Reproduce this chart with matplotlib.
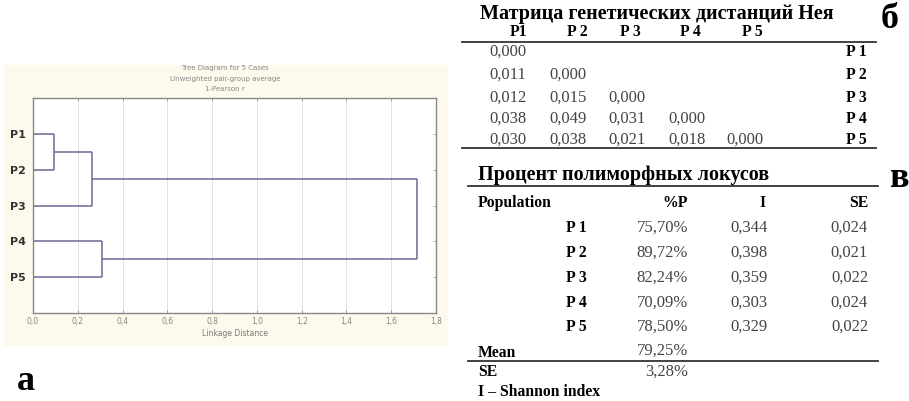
import matplotlib
matplotlib.use('Agg')
import matplotlib.pyplot as plt
from matplotlib.patches import Rectangle

# dendrogram (UPGMA, 1-Pearson r)
leaves = ['P1', 'P2', 'P3', 'P4', 'P5']
h_p1p2 = 0.094
h_p12p3 = 0.262
h_p4p5 = 0.31
h_root = 1.714

# Nei genetic distance matrix (lower triangle)
pops_b = ['P 1', 'P 2', 'P 3', 'P 4', 'P 5']
col_heads_b = ['P1', 'P 2', 'P 3', 'P 4', 'P 5']
nei = [['0,000'],
       ['0,011', '0,000'],
       ['0,012', '0,015', '0,000'],
       ['0,038', '0,049', '0,031', '0,000'],
       ['0,030', '0,038', '0,021', '0,018', '0,000']]

# polymorphic loci
pops_c = ['P 1', 'P 2', 'P 3', 'P 4', 'P 5']
perc_p = ['75,70%', '89,72%', '82,24%', '70,09%', '78,50%']
shannon = ['0,344', '0,398', '0,359', '0,303', '0,329']
se_vals = ['0,024', '0,021', '0,022', '0,024', '0,022']
mean_p = '79,25%'
se_p = '3,28%'

W, H = 909, 401
fig = plt.figure(figsize=(W / 100, H / 100), dpi=100)

def fx(x):
    return x / W

def fy(y):
    return 1 - y / H

serif = 'Liberation Serif'
vcol = '#444444'
fs_title = 14.5
fs_val = 12
fs_bold = 11.3
fs_letter = 26

# ---- panel a ----
bg = Rectangle((fx(4), fy(346)), fx(444), 281 / H, transform=fig.transFigure,
               facecolor='#fdf9ec', edgecolor='none', zorder=-5)
fig.patches.append(bg)
ax = fig.add_axes([fx(33), fy(313), fx(403), 215 / H], zorder=2)
ax.set_facecolor('white')
lc = '#6a6a96'
lw = 1.1
ypos = {name: i + 1 for i, name in enumerate(leaves)}
y12 = (ypos['P1'] + ypos['P2']) / 2
y123 = (y12 + ypos['P3']) / 2
y45 = (ypos['P4'] + ypos['P5']) / 2
segs = [
    ([0, h_p1p2], [ypos['P1']] * 2), ([0, h_p1p2], [ypos['P2']] * 2),
    ([h_p1p2] * 2, [ypos['P1'], ypos['P2']]),
    ([h_p1p2, h_p12p3], [y12] * 2), ([0, h_p12p3], [ypos['P3']] * 2),
    ([h_p12p3] * 2, [y12, ypos['P3']]),
    ([0, h_p4p5], [ypos['P4']] * 2), ([0, h_p4p5], [ypos['P5']] * 2),
    ([h_p4p5] * 2, [ypos['P4'], ypos['P5']]),
    ([h_p12p3, h_root], [y123] * 2), ([h_p4p5, h_root], [y45] * 2),
    ([h_root] * 2, [y123, y45]),
]
for xs, ys in segs:
    ax.plot(xs, ys, color=lc, lw=lw, solid_capstyle='butt')
ax.set_xlim(0, 1.8)
ax.set_ylim(6, 0)
xt = [i * 0.2 for i in range(10)]
ax.set_xticks(xt)
ax.set_xticklabels([('%.1f' % v).replace('.', ',') for v in xt], fontsize=5.5, color='#888888')
ax.set_yticks(range(1, 6))
ax.set_yticklabels(leaves, fontsize=8, fontweight='bold', color='#333333')
ax.tick_params(axis='both', direction='in', length=2, width=0.6, color='#999999',
               top=True, right=True, pad=3)
ax.tick_params(axis='y', pad=5)
ax.grid(axis='x', color='#dddddd', lw=0.6)
ax.set_axisbelow(True)
for s in ax.spines.values():
    s.set_color('#888888')
    s.set_linewidth(1.0)
ax.set_xlabel('Linkage Distance', fontsize=5.5, color='#777777', labelpad=2)
for txt, yy in [('Tree Diagram for 5 Cases', 68), ('Unweighted pair-group average', 79),
                ('1-Pearson r', 89)]:
    fig.text(fx(225), fy(yy), txt, fontsize=5, color='#888888', ha='center', va='center')
fig.text(fx(17), fy(390), 'а', fontsize=fs_letter, fontweight='bold', family=serif,
         ha='left', va='baseline')

# ---- panel б ----
fig.text(fx(480), fy(14), 'Матрица генетических дистанций Нея', fontsize=fs_title,
         fontweight='bold', family=serif, ha='left', va='center')
fig.text(fx(881), fy(28), 'б', fontsize=fs_letter, fontweight='bold', family=serif,
         ha='left', va='baseline')
col_x = [508, 568, 627, 687, 745]
head_x = [519, 577, 630, 690, 752]
for hx, hd in zip(head_x, col_heads_b):
    fig.text(fx(hx), fy(32), hd, fontsize=fs_bold, fontweight='bold', family=serif,
             ha='center', va='center')
fig.add_artist(plt.Line2D([fx(462), fx(876)], [fy(42), fy(42)], color='#333333', lw=1.3))
row_y = [52, 75, 98, 119, 140]
for i, row in enumerate(nei):
    for j, v in enumerate(row):
        fig.text(fx(col_x[j]), fy(row_y[i]), v, fontsize=fs_val, family=serif, color=vcol,
                 ha='center', va='center')
    fig.text(fx(867), fy(row_y[i]), pops_b[i], fontsize=fs_bold, fontweight='bold', family=serif,
             ha='right', va='center')
fig.add_artist(plt.Line2D([fx(462), fx(876)], [fy(148), fy(148)], color='#333333', lw=1.3))

# ---- panel в ----
fig.text(fx(478), fy(175), 'Процент полиморфных локусов', fontsize=fs_title,
         fontweight='bold', family=serif, ha='left', va='center')
fig.text(fx(889), fy(187), 'в', fontsize=fs_letter, fontweight='bold', family=serif,
         ha='left', va='baseline')
fig.add_artist(plt.Line2D([fx(468), fx(878)], [fy(186), fy(186)], color='#333333', lw=1.3))
fig.text(fx(478), fy(203), 'Population', fontsize=fs_bold, fontweight='bold', family=serif,
         ha='left', va='center')
fig.text(fx(688), fy(203), '%P', fontsize=fs_bold, fontweight='bold', family=serif,
         ha='right', va='center')
fig.text(fx(763), fy(203), 'I', fontsize=fs_bold, fontweight='bold', family=serif,
         ha='center', va='center')
fig.text(fx(868), fy(203), 'SE', fontsize=fs_bold, fontweight='bold', family=serif,
         ha='right', va='center')
rows_c = [228, 253, 278, 303, 327]
for i in range(len(pops_c)):
    fig.text(fx(587), fy(rows_c[i]), pops_c[i], fontsize=fs_bold, fontweight='bold', family=serif,
             ha='right', va='center')
    fig.text(fx(688), fy(rows_c[i]), perc_p[i], fontsize=fs_val, family=serif, color=vcol,
             ha='right', va='center')
    fig.text(fx(749), fy(rows_c[i]), shannon[i], fontsize=fs_val, family=serif, color=vcol,
             ha='center', va='center')
    fig.text(fx(868), fy(rows_c[i]), se_vals[i], fontsize=fs_val, family=serif, color=vcol,
             ha='right', va='center')
fig.text(fx(478), fy(353), 'Mean', fontsize=fs_bold, fontweight='bold', family=serif,
         ha='left', va='center')
fig.text(fx(688), fy(351), mean_p, fontsize=fs_val, family=serif, color=vcol,
         ha='right', va='center')
fig.add_artist(plt.Line2D([fx(468), fx(878)], [fy(361), fy(361)], color='#333333', lw=1.3))
fig.text(fx(478), fy(372), 'SE', fontsize=fs_bold, fontweight='bold', family=serif,
         ha='left', va='center')
fig.text(fx(688), fy(372), se_p, fontsize=fs_val, family=serif, color=vcol,
         ha='right', va='center')
fig.text(fx(478), fy(392), 'I – Shannon index', fontsize=fs_bold, fontweight='bold', family=serif,
         ha='left', va='center')

fig.savefig('out.png', dpi=100)
